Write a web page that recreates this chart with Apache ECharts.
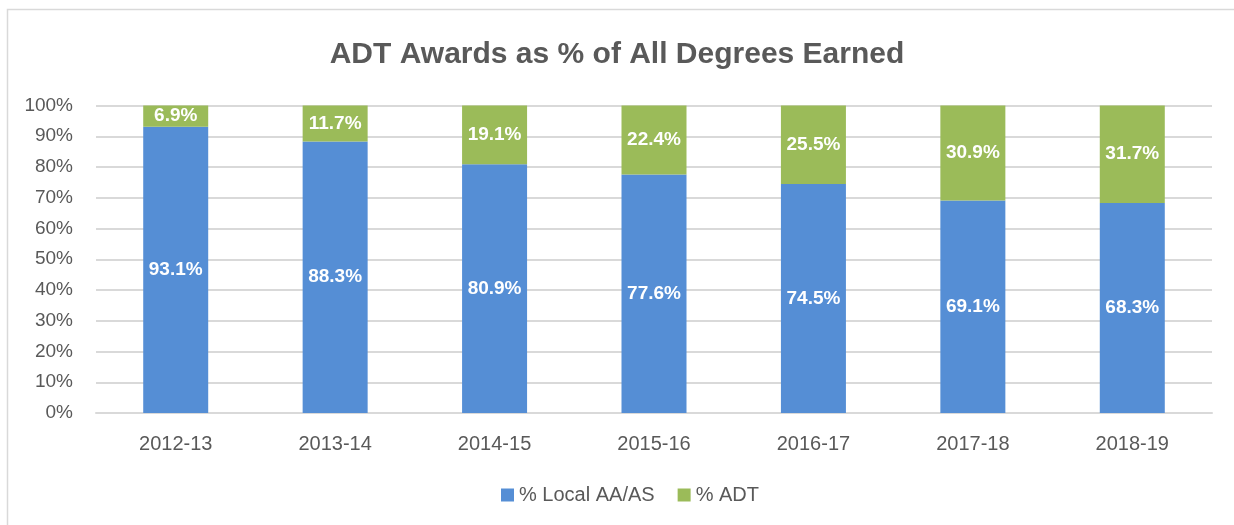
<!DOCTYPE html>
<html><head><meta charset="utf-8">
<script src="https://cdn.jsdelivr.net/npm/echarts@6/dist/echarts.min.js"></script>
<style>html,body{margin:0;padding:0;background:#fff}#c{width:1234px;height:525px}</style>
</head><body><div id="c"></div>
<script>
const categories = ['2012-13','2013-14','2014-15','2015-16','2016-17','2017-18','2018-19'];
const localAAAS = [93.1, 88.3, 80.9, 77.6, 74.5, 69.1, 68.3];
const adt = [6.9, 11.7, 19.1, 22.4, 25.5, 30.9, 31.7];
const FONT = "'Liberation Sans Narrow','Arial Narrow','Liberation Sans',sans-serif";
const chart = echarts.init(document.getElementById('c'));
const lbl = {show:true, position:'inside', color:'#fff', fontWeight:'bold', fontSize:19, fontFamily:FONT, formatter:p=>p.value.toFixed(1)+'%'};
chart.setOption({
  animation:false,
  graphic:[{type:'rect', shape:{x:7.5,y:9.5,width:1240,height:540}, style:{fill:'none', stroke:'#D9D9D9', lineWidth:1.5}, silent:true}],
  title:{text:'ADT Awards as % of All Degrees Earned', left:'center', top:35, textStyle:{fontFamily:FONT, fontSize:30, fontWeight:'bold', color:'#595959'}},
  legend:{top:480, left:496, itemWidth:13, itemHeight:13, itemGap:23, icon:'rect', textStyle:{fontFamily:FONT, fontSize:20, color:'#595959'}},
  grid:{left:96, right:22, top:105.5, bottom:112},
  xAxis:{type:'category', data:categories, axisLine:{lineStyle:{color:'#D9D9D9', width:2}}, axisTick:{show:false}, axisLabel:{fontFamily:FONT, fontSize:20, color:'#595959', margin:21}},
  yAxis:{type:'value', min:0, max:100, interval:10, axisLine:{show:false}, axisTick:{show:false}, splitLine:{lineStyle:{color:'#D9D9D9', width:2}}, axisLabel:{fontFamily:FONT, fontSize:19, color:'#595959', margin:23, formatter:v=>v+'%'}},
  series:[
    {name:'% Local AA/AS', type:'bar', stack:'t', data:localAAAS, barWidth:65, itemStyle:{color:'#558ED5'}, label:lbl},
    {name:'% ADT', type:'bar', stack:'t', data:adt, barWidth:65, itemStyle:{color:'#9BBB59'}, label:lbl}
  ]
});
</script></body></html>
